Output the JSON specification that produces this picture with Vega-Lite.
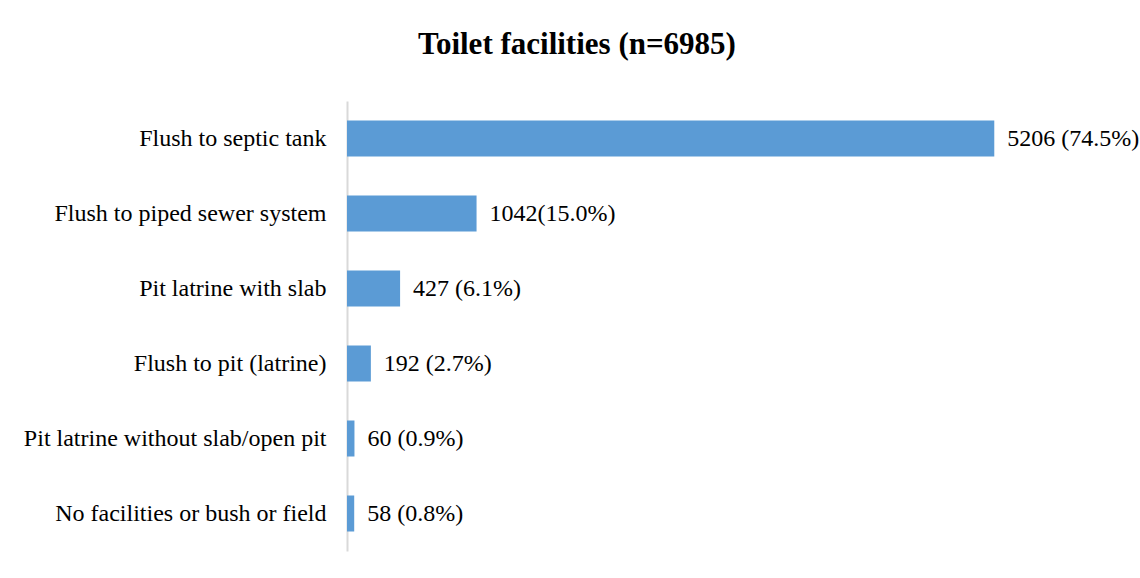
{
  "$schema": "https://vega.github.io/schema/vega-lite/v6.json",
  "autosize": "none",
  "padding": {"left": 347, "top": 101, "right": 47, "bottom": 27},
  "width": 746,
  "height": 450,
  "background": "white",
  "title": {
    "text": "Toilet facilities (n=6985)",
    "font": "Liberation Serif",
    "fontSize": 31,
    "fontWeight": "bold",
    "color": "black",
    "anchor": "middle",
    "frame": "group",
    "baseline": "alphabetic",
    "offset": 16,
    "dx": -143
  },
  "config": {"view": {"stroke": null}},
  "data": {
    "values": [
      {"category": "Flush to septic tank", "count": 5206, "label": "5206 (74.5%)"},
      {"category": "Flush to piped sewer system", "count": 1042, "label": "1042(15.0%)"},
      {"category": "Pit latrine with slab", "count": 427, "label": "427 (6.1%)"},
      {"category": "Flush to pit (latrine)", "count": 192, "label": "192 (2.7%)"},
      {"category": "Pit latrine without slab/open pit", "count": 60, "label": "60 (0.9%)"},
      {"category": "No facilities or bush or field", "count": 58, "label": "58 (0.8%)"}
    ]
  },
  "encoding": {
    "y": {
      "field": "category",
      "type": "nominal",
      "sort": null,
      "scale": {"paddingInner": 0.52, "paddingOuter": 0.26},
      "axis": {
        "title": null,
        "ticks": false,
        "domainColor": "#D9D9D9",
        "domainWidth": 2,
        "labelFont": "Liberation Serif",
        "labelFontSize": 24,
        "labelColor": "black",
        "labelPadding": 21,
        "labelLimit": 400
      }
    },
    "x": {
      "field": "count",
      "type": "quantitative",
      "scale": {"domain": [0, 6000], "nice": false},
      "axis": null
    }
  },
  "layer": [
    {"mark": {"type": "bar", "color": "#5B9BD5"}},
    {
      "mark": {"type": "text", "align": "left", "baseline": "middle", "dx": 13, "font": "Liberation Serif", "fontSize": 24, "color": "black"},
      "encoding": {"text": {"field": "label"}}
    }
  ]
}
